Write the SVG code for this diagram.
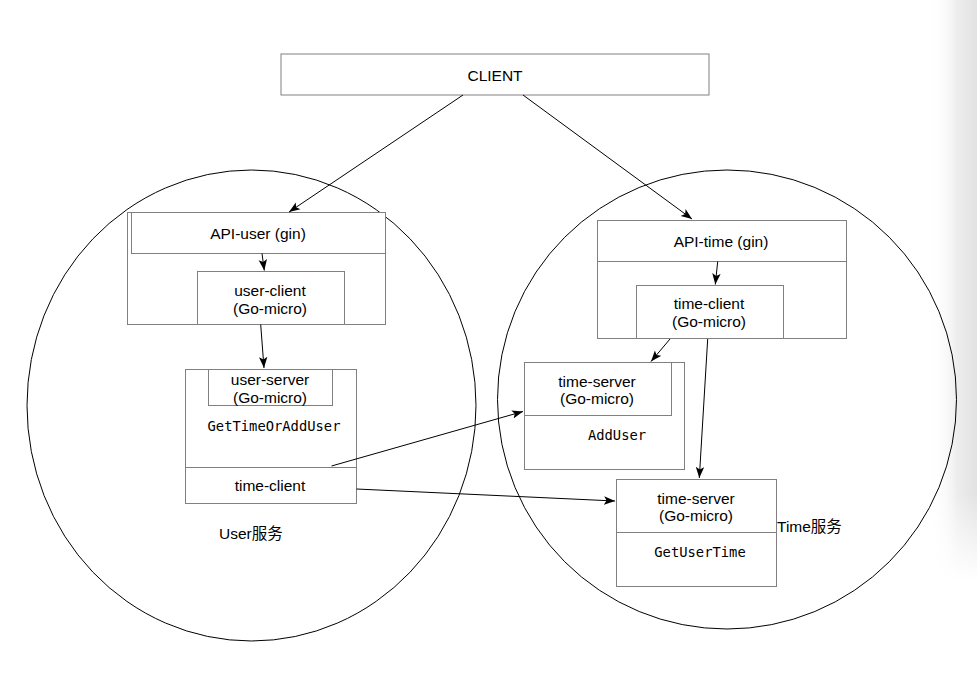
<svg xmlns="http://www.w3.org/2000/svg" width="977" height="698" viewBox="0 0 977 698">
<style>
  .box { fill: #ffffff; stroke: #808080; stroke-width: 1; }
  .div { fill: none; stroke: #808080; stroke-width: 1; }
  .ring { fill: none; stroke: #000000; stroke-width: 1; }
  .t { font-family: "Liberation Sans", Arial, sans-serif; font-size: 15.5px; fill: #000000; text-anchor: middle; }
  .tl { font-family: "Liberation Sans", Arial, "Noto Sans CJK SC", sans-serif; font-size: 15.5px; fill: #000000; }
  .m { font-family: "DejaVu Sans Mono", "Liberation Mono", monospace; font-size: 13.8px; fill: #000000; text-anchor: middle; }
  .c { fill: none; stroke: #000000; stroke-width: 1; marker-end: url(#arrow); }
</style>
<defs>
  <marker id="arrow" markerUnits="userSpaceOnUse" markerWidth="12" markerHeight="10" viewBox="0 0 12 10" refX="11" refY="5" orient="auto">
    <path d="M0,0.8 L11,5 L0,9.2 L2.5,5 Z" fill="#000000"/>
  </marker>
  <linearGradient id="edgeH" x1="0" y1="0" x2="1" y2="0">
    <stop offset="0" stop-color="#ffffff" stop-opacity="0"/>
    <stop offset="0.6" stop-color="#ececec" stop-opacity="1"/>
    <stop offset="1" stop-color="#e2e2e2" stop-opacity="1"/>
  </linearGradient>
  <linearGradient id="edgeV" x1="0" y1="0" x2="0" y2="1">
    <stop offset="0" stop-color="#ffffff"/>
    <stop offset="0.85" stop-color="#ffffff"/>
    <stop offset="1" stop-color="#000000"/>
  </linearGradient>
  <mask id="edgeMask">
    <rect x="930" y="0" width="47" height="580" fill="url(#edgeV)"/>
  </mask>
</defs>
<rect x="0" y="0" width="977" height="698" fill="#ffffff"/>
<rect x="930" y="0" width="47" height="580" fill="url(#edgeH)" mask="url(#edgeMask)"/>

<g id="user-service">
  <ellipse class="ring" cx="251.5" cy="405.5" rx="224.5" ry="235.5"/>
  <text class="tl" x="219" y="538.5">User服务</text>
</g>
<g id="time-service">
  <circle class="ring" cx="727" cy="399.5" r="229.5"/>
  <text class="tl" x="777" y="532">Time服务</text>
</g>

<g id="client">
  <rect class="box" x="281" y="54" width="428" height="41"/>
  <text class="t" x="495" y="80.5">CLIENT</text>
</g>

<g id="api-user">
  <rect class="box" x="127.5" y="212.5" width="258" height="112"/>
  <rect class="box" x="131.5" y="212.5" width="254" height="41"/>
  <text class="t" x="258" y="239">API-user (gin)</text>
</g>
<g id="user-client">
  <rect class="box" x="197.5" y="271.5" width="147" height="53"/>
  <text class="t" x="270" y="295.5">user-client</text>
  <text class="t" x="270" y="313.5">(Go-micro)</text>
</g>

<g id="user-server">
  <rect class="box" x="185.5" y="369.5" width="171" height="134"/>
  <rect class="box" x="208.5" y="369.5" width="124" height="36"/>
  <line class="div" x1="185.5" y1="467.5" x2="356.5" y2="467.5"/>
  <text class="t" x="270" y="384.5">user-server</text>
  <text class="t" x="270" y="402.5">(Go-micro)</text>
  <text class="m" x="274" y="431">GetTimeOrAddUser</text>
  <text class="t" x="270" y="490.5">time-client</text>
</g>

<g id="api-time">
  <rect class="box" x="597.5" y="220.5" width="249" height="118"/>
  <line class="div" x1="597.5" y1="261.5" x2="846.5" y2="261.5"/>
  <text class="t" x="721" y="247">API-time (gin)</text>
</g>
<g id="time-client">
  <rect class="box" x="636.5" y="285.5" width="147" height="53"/>
  <text class="t" x="709" y="308.5">time-client</text>
  <text class="t" x="709" y="327">(Go-micro)</text>
</g>

<g id="time-server-adduser">
  <rect class="box" x="524.5" y="362.5" width="160" height="107"/>
  <rect class="box" x="524.5" y="362.5" width="147" height="53"/>
  <text class="t" x="597" y="386.5">time-server</text>
  <text class="t" x="597" y="404">(Go-micro)</text>
  <text class="m" x="617" y="440">AddUser</text>
</g>

<g id="time-server-getusertime">
  <rect class="box" x="616.5" y="479.5" width="160" height="107"/>
  <line class="div" x1="616.5" y1="532.5" x2="776.5" y2="532.5"/>
  <text class="t" x="696" y="503.5">time-server</text>
  <text class="t" x="696" y="521">(Go-micro)</text>
  <text class="m" x="700" y="557">GetUserTime</text>
</g>

<g id="connectors">
  <line class="c" x1="463" y1="95" x2="289" y2="212"/>
  <line class="c" x1="523" y1="95" x2="692" y2="219"/>
  <line class="c" x1="262" y1="253.5" x2="264.3" y2="270.5"/>
  <line class="c" x1="260.7" y1="324.5" x2="264" y2="368"/>
  <line class="c" x1="331.5" y1="466" x2="523" y2="411.5"/>
  <line class="c" x1="356.5" y1="489" x2="615" y2="501"/>
  <line class="c" x1="717.7" y1="261.5" x2="715.3" y2="284.5"/>
  <line class="c" x1="670" y1="339" x2="651" y2="361.5"/>
  <line class="c" x1="707.7" y1="339" x2="699.3" y2="478"/>
</g>
</svg>
